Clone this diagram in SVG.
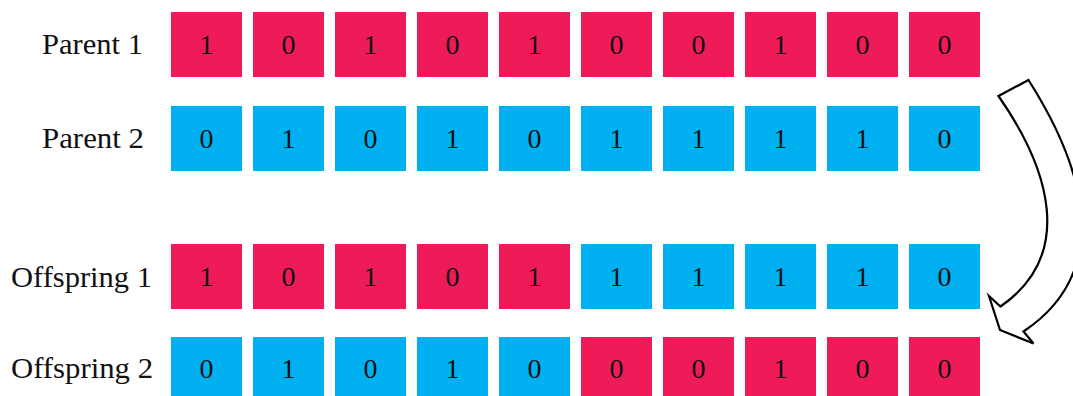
<svg xmlns="http://www.w3.org/2000/svg" width="1073" height="396" viewBox="0 0 1073 396">
<style>
.r{fill:#EF1B59}
.b{fill:#00B0F0}
text{font-family:"Liberation Serif","Times New Roman",serif;fill:#111}
.lbl{font-size:30px}
.d{font-size:28px;text-anchor:middle}
.arrow{fill:#fff;stroke:#000;stroke-width:2.2;stroke-linejoin:miter}
</style>
<rect width="1073" height="396" fill="#fff"/>
<g id="parent1">
<text class="lbl" x="42" y="54" textLength="101" lengthAdjust="spacingAndGlyphs">Parent 1</text>
<rect class="r" x="171" y="12" width="71" height="65"/><text class="d" x="206.5" y="54">1</text>
<rect class="r" x="253" y="12" width="71" height="65"/><text class="d" x="288.5" y="54">0</text>
<rect class="r" x="335" y="12" width="71" height="65"/><text class="d" x="370.5" y="54">1</text>
<rect class="r" x="417" y="12" width="71" height="65"/><text class="d" x="452.5" y="54">0</text>
<rect class="r" x="499" y="12" width="71" height="65"/><text class="d" x="534.5" y="54">1</text>
<rect class="r" x="581" y="12" width="71" height="65"/><text class="d" x="616.5" y="54">0</text>
<rect class="r" x="663" y="12" width="71" height="65"/><text class="d" x="698.5" y="54">0</text>
<rect class="r" x="745" y="12" width="71" height="65"/><text class="d" x="780.5" y="54">1</text>
<rect class="r" x="827" y="12" width="71" height="65"/><text class="d" x="862.5" y="54">0</text>
<rect class="r" x="909" y="12" width="71" height="65"/><text class="d" x="944.5" y="54">0</text>
</g>
<g id="parent2">
<text class="lbl" x="42" y="148" textLength="102" lengthAdjust="spacingAndGlyphs">Parent 2</text>
<rect class="b" x="171" y="106" width="71" height="65"/><text class="d" x="206.5" y="148">0</text>
<rect class="b" x="253" y="106" width="71" height="65"/><text class="d" x="288.5" y="148">1</text>
<rect class="b" x="335" y="106" width="71" height="65"/><text class="d" x="370.5" y="148">0</text>
<rect class="b" x="417" y="106" width="71" height="65"/><text class="d" x="452.5" y="148">1</text>
<rect class="b" x="499" y="106" width="71" height="65"/><text class="d" x="534.5" y="148">0</text>
<rect class="b" x="581" y="106" width="71" height="65"/><text class="d" x="616.5" y="148">1</text>
<rect class="b" x="663" y="106" width="71" height="65"/><text class="d" x="698.5" y="148">1</text>
<rect class="b" x="745" y="106" width="71" height="65"/><text class="d" x="780.5" y="148">1</text>
<rect class="b" x="827" y="106" width="71" height="65"/><text class="d" x="862.5" y="148">1</text>
<rect class="b" x="909" y="106" width="71" height="65"/><text class="d" x="944.5" y="148">0</text>
</g>
<g id="offspring1">
<text class="lbl" x="11" y="287" textLength="141" lengthAdjust="spacingAndGlyphs">Offspring 1</text>
<rect class="r" x="171" y="244" width="71" height="65"/><text class="d" x="206.5" y="286">1</text>
<rect class="r" x="253" y="244" width="71" height="65"/><text class="d" x="288.5" y="286">0</text>
<rect class="r" x="335" y="244" width="71" height="65"/><text class="d" x="370.5" y="286">1</text>
<rect class="r" x="417" y="244" width="71" height="65"/><text class="d" x="452.5" y="286">0</text>
<rect class="r" x="499" y="244" width="71" height="65"/><text class="d" x="534.5" y="286">1</text>
<rect class="b" x="581" y="244" width="71" height="65"/><text class="d" x="616.5" y="286">1</text>
<rect class="b" x="663" y="244" width="71" height="65"/><text class="d" x="698.5" y="286">1</text>
<rect class="b" x="745" y="244" width="71" height="65"/><text class="d" x="780.5" y="286">1</text>
<rect class="b" x="827" y="244" width="71" height="65"/><text class="d" x="862.5" y="286">1</text>
<rect class="b" x="909" y="244" width="71" height="65"/><text class="d" x="944.5" y="286">0</text>
</g>
<g id="offspring2">
<text class="lbl" x="11" y="378" textLength="142" lengthAdjust="spacingAndGlyphs">Offspring 2</text>
<rect class="b" x="171" y="337" width="71" height="65"/><text class="d" x="206.5" y="378">0</text>
<rect class="b" x="253" y="337" width="71" height="65"/><text class="d" x="288.5" y="378">1</text>
<rect class="b" x="335" y="337" width="71" height="65"/><text class="d" x="370.5" y="378">0</text>
<rect class="b" x="417" y="337" width="71" height="65"/><text class="d" x="452.5" y="378">1</text>
<rect class="b" x="499" y="337" width="71" height="65"/><text class="d" x="534.5" y="378">0</text>
<rect class="r" x="581" y="337" width="71" height="65"/><text class="d" x="616.5" y="378">0</text>
<rect class="r" x="663" y="337" width="71" height="65"/><text class="d" x="698.5" y="378">0</text>
<rect class="r" x="745" y="337" width="71" height="65"/><text class="d" x="780.5" y="378">1</text>
<rect class="r" x="827" y="337" width="71" height="65"/><text class="d" x="862.5" y="378">0</text>
<rect class="r" x="909" y="337" width="71" height="65"/><text class="d" x="944.5" y="378">0</text>
</g>
<g id="connectors">
<path class="arrow" d="M998.5,96 L1028.5,80 C1092,180 1108,275 1023.5,331.5 L1033.5,343.5 L1000,330 L989,296 L1000.5,306.5 C1075,255 1050,170 998.5,96 Z"/>
</g>
</svg>
